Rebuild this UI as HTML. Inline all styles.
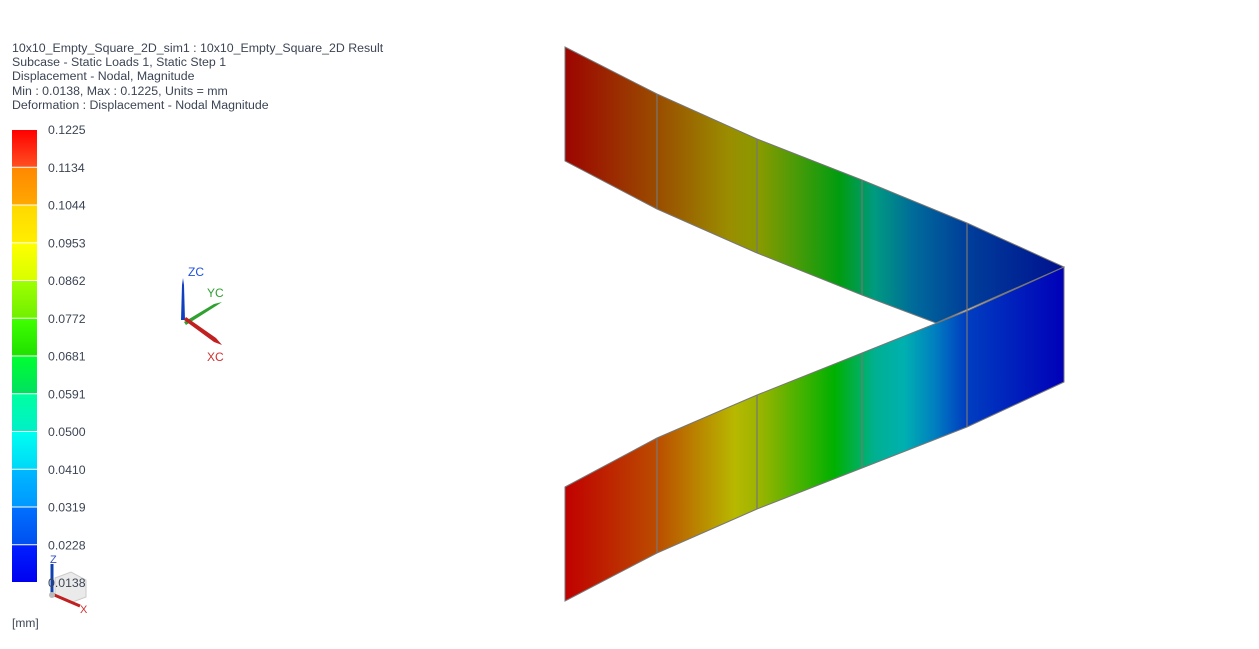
<!DOCTYPE html>
<html><head><meta charset="utf-8"><style>
html,body{margin:0;padding:0;background:#fff;width:1259px;height:649px;overflow:hidden;font-family:"Liberation Sans",sans-serif}
.hdr{position:absolute;left:12px;top:41px;font-size:12.35px;line-height:14.2px;color:#3c4454}
</style></head><body>
<div class="hdr">
<div>10x10_Empty_Square_2D_sim1 : 10x10_Empty_Square_2D Result</div>
<div>Subcase - Static Loads 1, Static Step 1</div>
<div>Displacement - Nodal, Magnitude</div>
<div>Min : 0.0138, Max : 0.1225, Units = mm</div>
<div>Deformation : Displacement - Nodal Magnitude</div>
</div>
<svg id="svg" width="1259" height="649" style="position:absolute;left:0;top:0">
<defs>
<linearGradient id="gUp" gradientUnits="userSpaceOnUse" x1="565" y1="0" x2="1064" y2="0">
<stop offset="0" stop-color="#9c0500"/><stop offset="0.18" stop-color="#9a4a00"/><stop offset="0.33" stop-color="#9a8e00"/><stop offset="0.39" stop-color="#889a00"/><stop offset="0.55" stop-color="#009c10"/><stop offset="0.62" stop-color="#009a80"/><stop offset="0.70" stop-color="#006a9a"/><stop offset="0.80" stop-color="#00409a"/><stop offset="1" stop-color="#001090"/>
</linearGradient>
<linearGradient id="gLo" gradientUnits="userSpaceOnUse" x1="565" y1="0" x2="1064" y2="0">
<stop offset="0" stop-color="#c00000"/><stop offset="0.18" stop-color="#bb4a00"/><stop offset="0.34" stop-color="#b8b800"/><stop offset="0.39" stop-color="#9ab400"/><stop offset="0.54" stop-color="#00b000"/><stop offset="0.62" stop-color="#00b090"/><stop offset="0.68" stop-color="#00b0b0"/><stop offset="0.74" stop-color="#0080c0"/><stop offset="0.80" stop-color="#0040c0"/><stop offset="1" stop-color="#0000b8"/>
</linearGradient>
</defs>
<g>
<polygon points="55,578 71,572 86,580 86,597 70,603 55,596" fill="#ddd" stroke="#aaa" opacity="0.6"/>
<line x1="52" y1="594" x2="52" y2="564" stroke="#1040b0" stroke-width="3"/>
<line x1="52" y1="594" x2="80" y2="606" stroke="#c02020" stroke-width="3"/>
<circle cx="52" cy="595" r="3" fill="#bbb"/>
<text x="50" y="563" font-size="11" fill="#3050c0">Z</text>
<text x="80" y="613" font-size="11" fill="#d03030">X</text>
</g>
<g id="legend"></g>
<g>
<polygon fill="url(#gUp)" stroke="#777" stroke-width="1" points="565,47 657,94 757,139 862,180 967,223 1064,267 936,323 862,295 757,253 657,209 565,161"/>
<polygon fill="url(#gLo)" stroke="#777" stroke-width="1" points="565,487 657,438 757,395 862,353 967,311 1064,267 1064,382 967,427 862,468 757,509 657,553 565,601"/>
<g stroke="#777" stroke-width="1.2">
<line x1="657" y1="94" x2="657" y2="209"/><line x1="757" y1="139" x2="757" y2="253"/><line x1="862" y1="180" x2="862" y2="295"/><line x1="967" y1="223" x2="967" y2="311"/>
<line x1="657" y1="438" x2="657" y2="553"/><line x1="757" y1="395" x2="757" y2="509"/><line x1="862" y1="353" x2="862" y2="468"/><line x1="967" y1="311" x2="967" y2="427"/>
</g>
</g>
<g>
<polygon points="181,320 185,320 184,285 183,278 182,285" fill="#1040c0"/>
<polygon points="184,322 186,325 216,306 222,302 214,304" fill="#30a030"/>
<polygon points="184,320 186,317 216,338 222,345 214,342" fill="#c02020"/>
<text x="188" y="276" font-size="12" fill="#2050e0">ZC</text>
<text x="207" y="297" font-size="12" fill="#30a030">YC</text>
<text x="207" y="361" font-size="12" fill="#d03030">XC</text>
</g>
<text x="12" y="627" font-size="12" fill="#3c4454">[mm]</text>
</svg>
<script>
const legendLabels=["0.1225","0.1134","0.1044","0.0953","0.0862","0.0772","0.0681","0.0591","0.0500","0.0410","0.0319","0.0228","0.0138"];
const segTop=["#ff0000","#ff8800","#ffd800","#ffff00","#a0ff00","#40ff00","#00ff30","#00ffa0","#00fff0","#00b8ff","#0070ff","#0020ff"];
const segBot=["#ff5020","#ffa800","#ffee00","#d8ff00","#70f000","#20e000","#00e060","#00f0c8","#00d8f8","#0098ff","#0050f0","#0000f0"];
const NS="http://www.w3.org/2000/svg";
const lg=document.getElementById('legend');
const defs=document.querySelector('defs');
const y0=130,y1=583,n=segTop.length,h=(y1-y0)/n;
for(let i=0;i<n;i++){
  const g=document.createElementNS(NS,'linearGradient');
  g.setAttribute('id','ls'+i);g.setAttribute('x1','0');g.setAttribute('y1','0');g.setAttribute('x2','0');g.setAttribute('y2','1');
  g.innerHTML='<stop offset="0" stop-color="'+segTop[i]+'"/><stop offset="1" stop-color="'+segBot[i]+'"/>';
  defs.appendChild(g);
  const r=document.createElementNS(NS,'rect');
  r.setAttribute('x',12);r.setAttribute('y',y0+i*h);r.setAttribute('width',25);r.setAttribute('height',h-1);
  r.setAttribute('fill','url(#ls'+i+')');
  
  
  lg.appendChild(r);
}
legendLabels.forEach((t,i)=>{
  const tx=document.createElementNS(NS,'text');
  tx.setAttribute('x',48);tx.setAttribute('y',y0+i*h+4);
  tx.setAttribute('font-size','12.3');tx.setAttribute('fill','#3c4454');
  tx.textContent=t;
  
  
  lg.appendChild(tx);
});
</script>
</body></html>
